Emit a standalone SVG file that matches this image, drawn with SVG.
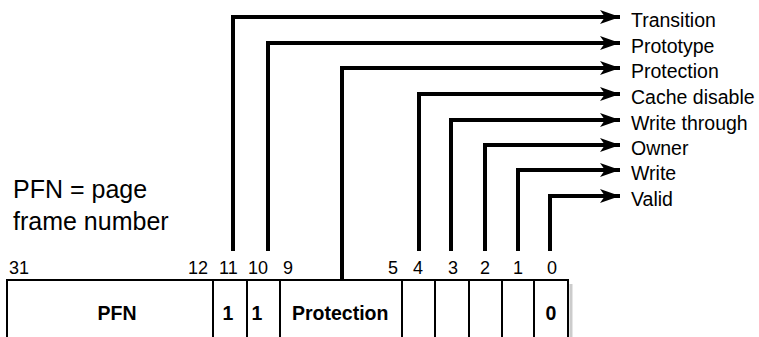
<svg xmlns="http://www.w3.org/2000/svg" width="759" height="337" viewBox="0 0 759 337">
<defs>
<style>
.lbl{font-family:"Liberation Sans",Arial,sans-serif;font-size:19.5px;fill:#000}
.bit{font-family:"Liberation Sans",Arial,sans-serif;font-size:18px;fill:#000}
.note{font-family:"Liberation Sans",Arial,sans-serif;font-size:25px;fill:#000}
.fld{font-family:"Liberation Sans",Arial,sans-serif;font-size:19.5px;font-weight:bold;fill:#000}
.con{fill:none;stroke:#000;stroke-width:4;marker-end:url(#ah)}
.box{fill:#fff;stroke:#000;stroke-width:2}
.div{stroke:#000;stroke-width:2}
</style>
<marker id="ah" markerUnits="userSpaceOnUse" markerWidth="22" markerHeight="18" refX="20" refY="9" orient="auto">
<path d="M0,2 L20,9 L0,16 L5,9 Z" fill="#000"/>
</marker>
</defs>
<rect width="759" height="337" fill="#fff"/>
<g id="note">
<text class="note" x="13" y="198">PFN = page</text>
<text class="note" x="13" y="230">frame number</text>
</g>
<g id="connectors">
<path class="con" d="M233,251 V17 H620"/>
<path class="con" d="M268,251 V43 H620"/>
<path class="con" d="M342,280 V68 H620"/>
<path class="con" d="M419,251 V94 H620"/>
<path class="con" d="M451,251 V120 H620"/>
<path class="con" d="M485,251 V145 H620"/>
<path class="con" d="M518,251 V170 H620"/>
<path class="con" d="M550,251 V196 H620"/>
</g>
<g id="labels">
<text class="lbl" x="631" y="27">Transition</text>
<text class="lbl" x="631" y="53">Prototype</text>
<text class="lbl" x="631" y="78">Protection</text>
<text class="lbl" x="631" y="104">Cache disable</text>
<text class="lbl" x="631" y="130">Write through</text>
<text class="lbl" x="631" y="155">Owner</text>
<text class="lbl" x="631" y="180">Write</text>
<text class="lbl" x="631" y="206">Valid</text>
</g>
<g id="bits">
<text class="bit" x="9" y="274">31</text>
<text class="bit" x="188" y="274">12</text>
<text class="bit" x="219" y="274">11</text>
<text class="bit" x="248" y="274">10</text>
<text class="bit" x="283" y="274">9</text>
<text class="bit" x="388" y="274">5</text>
<text class="bit" x="413" y="274">4</text>
<text class="bit" x="448" y="274">3</text>
<text class="bit" x="480" y="274">2</text>
<text class="bit" x="513" y="274">1</text>
<text class="bit" x="547" y="274">0</text>
</g>
<g id="register">
<line x1="571" y1="284" x2="571" y2="337" stroke="#ccc" stroke-width="3"/>
<rect class="box" x="7" y="280" width="561" height="70"/>
<line class="div" x1="213" y1="280" x2="213" y2="337"/>
<line class="div" x1="247" y1="280" x2="247" y2="337"/>
<line class="div" x1="280" y1="280" x2="280" y2="337" stroke-width="3"/>
<line class="div" x1="402" y1="280" x2="402" y2="337"/>
<line class="div" x1="435" y1="280" x2="435" y2="337"/>
<line class="div" x1="469" y1="280" x2="469" y2="337"/>
<line class="div" x1="502" y1="280" x2="502" y2="337"/>
<line class="div" x1="534" y1="280" x2="534" y2="337"/>
<text class="fld" x="117" y="320" text-anchor="middle">PFN</text>
<text class="fld" x="228" y="320" text-anchor="middle">1</text>
<text class="fld" x="257" y="320" text-anchor="middle">1</text>
<text class="fld" x="292" y="320">Protection</text>
<text class="fld" x="551" y="320" text-anchor="middle">0</text>
</g>
</svg>
